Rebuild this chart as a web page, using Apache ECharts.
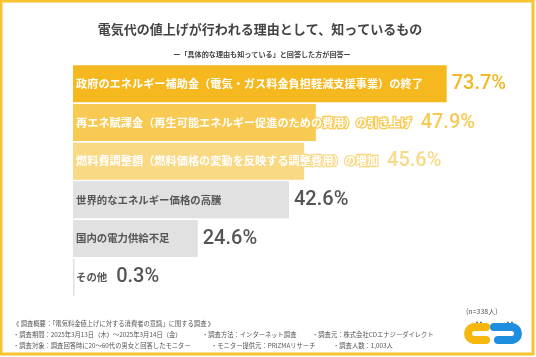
<!DOCTYPE html>
<html><head><meta charset="utf-8">
<script src="https://cdn.jsdelivr.net/npm/echarts@6/dist/echarts.min.js"></script>
<style>html,body{margin:0;padding:0;background:#fff}#c{width:536px;height:357px}</style>
</head><body><div id="c"></div>
<script>
var categories = [
  '政府のエネルギー補助金（電気・ガス料金負担軽減支援事業）の終了',
  '再エネ賦課金（再生可能エネルギー促進のための費用）の引き上げ',
  '燃料費調整額（燃料価格の変動を反映する調整費用）の増加',
  '世界的なエネルギー価格の高騰',
  '国内の電力供給不足',
  'その他'
];
var values = [73.7, 47.9, 45.6, 42.6, 24.6, 0.3];
var barColors = ['#F5B81E', '#F8CA52', '#FAD985', '#E1E1E1', '#E1E1E1', '#E1E1E1'];
var valueColors = ['#F3B722', '#F7C955', '#F9D98A', '#555555', '#555555', '#555555'];
var textColors = ['#ffffff', '#ffffff', '#ffffff', '#555555', '#555555', '#555555'];
var textSizes = [11.2, 11.2, 11.2, 10.4, 10.4, 10.4];

var CJK = '"Noto Sans CJK JP","Noto Sans CJK SC",sans-serif';
var NUM = '"Roboto","Liberation Sans",sans-serif';
var AXMAX = 80, GRID_L = 73, GRID_W = 405.6;
var pxPerUnit = GRID_W / AXMAX;

var ctx = document.createElement('canvas').getContext('2d');
function textW(s, size, weight){ ctx.font = weight + ' ' + size + 'px ' + CJK; return ctx.measureText(s).width; }

var mainData = values.map(function(v, i){
  return {
    value: v,
    itemStyle: {color: barColors[i]},
    label: {color: textColors[i], fontSize: textSizes[i],
      textBorderColor: i < 3 ? barColors[i] : 'transparent', textBorderWidth: i < 3 ? 2.5 : 0}
  };
});
var helperData = values.map(function(v, i){
  var tEnd = (4 + textW(categories[i], textSizes[i], 'bold') + 3) / pxPerUnit;
  return {value: Math.max(v, tEnd), realValue: v,
    label: {color: valueColors[i]}};
});

function ft(x, y, s){ return {type: 'text', x: x, y: y, silent: true, style: {text: s, fill: '#555', font: '6.3px ' + CJK, textVerticalAlign: 'middle'}}; }
var Y = '#F6B80F', B = '#1E8FE0';
function seg(x1, y1, x2, y2, c){ return {type: 'line', silent: true, shape: {x1: x1, y1: y1, x2: x2, y2: y2}, style: {stroke: c, lineWidth: 8, lineCap: 'round'}}; }
function arc(cx, cy, r, a0, a1, c){ return {type: 'arc', silent: true, shape: {cx: cx, cy: cy, r: r, startAngle: a0, endAngle: a1}, style: {stroke: c, lineWidth: 8, fill: 'none'}}; }

var chart = echarts.init(document.getElementById('c'));
chart.setOption({
  animation: false,
  backgroundColor: '#ffffff',
  title: [
    {text: '電気代の値上げが行われる理由として、知っているもの', left: 255, top: 18, textAlign: 'center',
      textStyle: {fontFamily: CJK, fontSize: 13, fontWeight: 'bold', color: '#444'}},
    {text: 'ー「具体的な理由も知っている」と回答した方が回答ー', left: 257, top: 46, textAlign: 'center',
      textStyle: {fontFamily: CJK, fontSize: 7.1, fontWeight: 'bold', color: '#444'}}
  ],
  grid: {left: GRID_L, top: 64.5, width: GRID_W, height: 232, containLabel: false},
  xAxis: {type: 'value', min: 0, max: AXMAX, show: false},
  yAxis: {type: 'category', data: categories, inverse: true, show: false},
  series: [
    {type: 'bar', data: mainData, barWidth: 37, z: 2,
      label: {show: true, position: 'insideLeft', distance: 3, formatter: '{b}',
        fontFamily: CJK, fontWeight: 'bold'}},
    {type: 'bar', data: helperData, barWidth: 37, barGap: '-100%', z: 1, silent: true,
      itemStyle: {color: 'rgba(0,0,0,0)'},
      label: {show: true, position: 'right', distance: 5,
        formatter: function(p){ return p.data.realValue.toFixed(1) + '%'; },
        fontFamily: NUM, fontSize: 20, fontWeight: 500}}
  ],
  graphic: [
    {type: 'rect', silent: true, shape: {x: 1, y: 1, width: 532, height: 353}, style: {fill: 'none', stroke: '#F7C32E', lineWidth: 3}},
    {type: 'text', x: 466, y: 311, silent: true, style: {text: '(n=338人)', fill: '#555', font: '7px ' + CJK, textVerticalAlign: 'middle'}},
    ft(13, 324, '《 調査概要：「電気料金値上げに対する消費者の意識」に関する調査 》'),
    ft(13, 335, '・調査期間：2025年3月13日（木）～2025年3月14日（金）'),
    ft(202, 335, '・調査方法：インターネット調査'),
    ft(312, 335, '・調査元：株式会社CDエナジーダイレクト'),
    ft(13, 346, '・調査対象：調査回答時に20～60代の男女と回答したモニター'),
    ft(211, 346, '・モニター提供元：PRIZMAリサーチ'),
    ft(333, 346, '・調査人数：1,003人'),
    arc(474.5, 333.5, 6.5, Math.PI / 2, Math.PI * 1.5, Y),
    seg(474.5, 327, 486, 327, Y), seg(474.5, 340, 486, 340, Y),
    arc(511.5, 333.5, 6.5, -Math.PI / 2, Math.PI / 2, B),
    seg(494, 327, 511.5, 327, B), seg(498, 340, 511.5, 340, B),
    {type: 'circle', silent: true, shape: {cx: 477, cy: 322.3, r: 0.8}, style: {fill: '#333'}},
    {type: 'circle', silent: true, shape: {cx: 481, cy: 322.3, r: 0.8}, style: {fill: '#333'}},
    {type: 'circle', silent: true, shape: {cx: 508, cy: 322.3, r: 0.8}, style: {fill: '#333'}},
    {type: 'circle', silent: true, shape: {cx: 512, cy: 322.3, r: 0.8}, style: {fill: '#333'}}
  ]
});
</script></body></html>
